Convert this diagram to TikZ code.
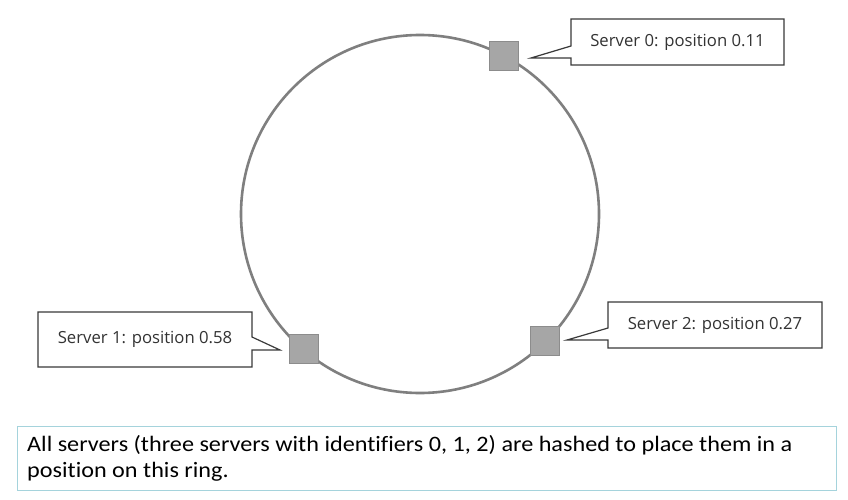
\documentclass[tikz,border=0pt]{standalone}
\usepackage{fontspec}
\setmainfont{Carlito}
\newfontfamily\notefont[FakeStretch=1.1,Ligatures=NoCommon]{Carlito}
\newfontfamily\calloutfont{Open Sans}
\definecolor{ringgray}{HTML}{7F7F7F}
\definecolor{sqfill}{HTML}{A6A6A6}
\definecolor{sqdraw}{HTML}{8C8C8C}
\definecolor{callline}{HTML}{3A3A3A}
\definecolor{calltext}{HTML}{333333}
\definecolor{notebox}{HTML}{A5D3DC}
\begin{document}
\begin{tikzpicture}[x=1pt,y=-1pt,
  serverbox/.style={draw=sqdraw,fill=sqfill,line width=1pt,minimum width=29pt,minimum height=29pt,inner sep=0pt},
  callout/.style={draw=callline,fill=white,line width=1.2pt,line join=miter},
  calltxt/.style={font=\calloutfont\fontsize{16.7pt}{20pt}\selectfont,text=calltext,inner sep=0pt},
  ring/.style={draw=ringgray,line width=2.6pt}]
\useasboundingbox (0,0) rectangle (848,500);
\fill[white] (0,0) rectangle (848,500);
% ring
\node[circle,ring,minimum size=358pt,inner sep=0pt] (ring) at (420,214) {};
% servers
\node[serverbox] (s0) at (504,56) {};
\node[serverbox] (s1) at (304,349) {};
\node[serverbox] (s2) at (544.5,340.5) {};
% callouts
\draw[callout] (571,19) -- (784,19) -- (784,65) -- (571,65) -- (571,58) -- (531,58) -- (571,46) -- cycle;
\node[calltxt] (t0) at (677.5,42) {Server 0: position 0.11};
\draw[callout] (38,312) -- (252,312) -- (252,337) -- (280,350) -- (252,350) -- (252,367) -- (38,367) -- cycle;
\node[calltxt] (t1) at (145,339) {Server 1: position 0.58};
\draw[callout] (608,302) -- (822,302) -- (822,348) -- (608,348) -- (608,340) -- (567,340) -- (608,328) -- cycle;
\node[calltxt] (t2) at (715,325) {Server 2: position 0.27};
% note
\draw[draw=notebox,line width=1pt] (17,426) rectangle (836,490);
\node[anchor=base west,inner sep=0pt,align=left,font=\notefont\fontsize{22pt}{26pt}\selectfont,text=black] (note) at (27,477)
  {All servers (three servers with identifiers 0, 1, 2) are hashed to place them in a\\position on this ring.};
\end{tikzpicture}
\end{document}
